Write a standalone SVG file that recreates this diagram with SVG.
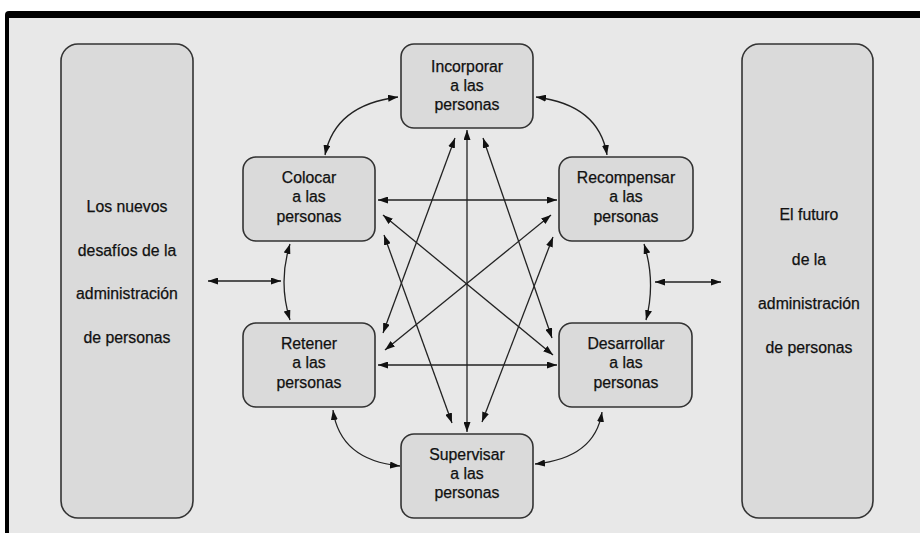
<svg xmlns="http://www.w3.org/2000/svg" width="920" height="533" viewBox="0 0 920 533">
<style>
.box{fill:#dadada;stroke:#333;stroke-width:1.6}
.t{font-family:"Liberation Sans",Arial,sans-serif;font-size:15.8px;fill:#111;stroke:#111;stroke-width:0.25;text-anchor:middle}
.c{fill:none;stroke:#222;stroke-width:1.3;marker-start:url(#ah);marker-end:url(#ah)}
</style>
<defs>
<marker id="ah" viewBox="0 0 10 7" refX="10" refY="3.5" markerWidth="10" markerHeight="7" markerUnits="userSpaceOnUse" orient="auto-start-reverse">
<path d="M0,0 L10,3.5 L0,7 z" fill="#111"/>
</marker>
</defs>
<rect x="0" y="0" width="920" height="533" fill="#ffffff"/>
<rect x="5" y="11" width="930" height="540" rx="4" fill="#000"/>
<rect x="9" y="18" width="920" height="530" fill="#e8e8e8"/>

<g id="left-panel">
<rect class="box" x="61" y="44" width="132" height="474" rx="17"/>
<text class="t" x="127" y="212">Los nuevos</text>
<text class="t" x="127" y="256">desafíos de la</text>
<text class="t" x="127" y="299">administración</text>
<text class="t" x="127" y="343">de personas</text>
</g>
<g id="right-panel">
<rect class="box" x="742" y="44" width="131" height="474" rx="17"/>
<text class="t" x="809" y="220">El futuro</text>
<text class="t" x="809" y="265">de la</text>
<text class="t" x="809" y="309">administración</text>
<text class="t" x="809" y="353">de personas</text>
</g>
<g id="incorporar">
<rect class="box" x="401" y="44" width="132" height="84" rx="13"/>
<text class="t" x="467" y="72">Incorporar</text>
<text class="t" x="467" y="91">a las</text>
<text class="t" x="467" y="110">personas</text>
</g>
<g id="colocar">
<rect class="box" x="243" y="157" width="132" height="84" rx="13"/>
<text class="t" x="309" y="183">Colocar</text>
<text class="t" x="309" y="202">a las</text>
<text class="t" x="309" y="222">personas</text>
</g>
<g id="recompensar">
<rect class="box" x="559" y="157" width="134" height="84" rx="13"/>
<text class="t" x="626" y="183">Recompensar</text>
<text class="t" x="626" y="202">a las</text>
<text class="t" x="626" y="222">personas</text>
</g>
<g id="retener">
<rect class="box" x="243" y="323" width="132" height="84" rx="13"/>
<text class="t" x="309" y="349">Retener</text>
<text class="t" x="309" y="368">a las</text>
<text class="t" x="309" y="388">personas</text>
</g>
<g id="desarrollar">
<rect class="box" x="559" y="323" width="133" height="84" rx="13"/>
<text class="t" x="626" y="349">Desarrollar</text>
<text class="t" x="626" y="368">a las</text>
<text class="t" x="626" y="388">personas</text>
</g>
<g id="supervisar">
<rect class="box" x="401" y="434" width="132" height="84" rx="13"/>
<text class="t" x="467" y="460">Supervisar</text>
<text class="t" x="467" y="479">a las</text>
<text class="t" x="467" y="498">personas</text>
</g>

<g id="connectors">
<path class="c" d="M208,281 L281,281"/>
<path class="c" d="M655,282 L721,282"/>
<path class="c" d="M325,155 Q335,105 398,97"/>
<path class="c" d="M536,97 Q599,105 607,155"/>
<path class="c" d="M333,410 Q340,460 400,466"/>
<path class="c" d="M602,412 Q595,458 535,464"/>
<path class="c" d="M290,244 Q278,282 290,320"/>
<path class="c" d="M644,244 Q656,282 646,320"/>
<path class="c" d="M378,200 L557,200"/>
<path class="c" d="M378,365 L557,365"/>
<path class="c" d="M467,130 L467,432"/>
<path class="c" d="M455,138 L383,333"/>
<path class="c" d="M483,138 L552,338"/>
<path class="c" d="M383,215 L553,355"/>
<path class="c" d="M551,215 L385,350"/>
<path class="c" d="M384,235 L452,423"/>
<path class="c" d="M553,237 L482,422"/>
</g>
</svg>
